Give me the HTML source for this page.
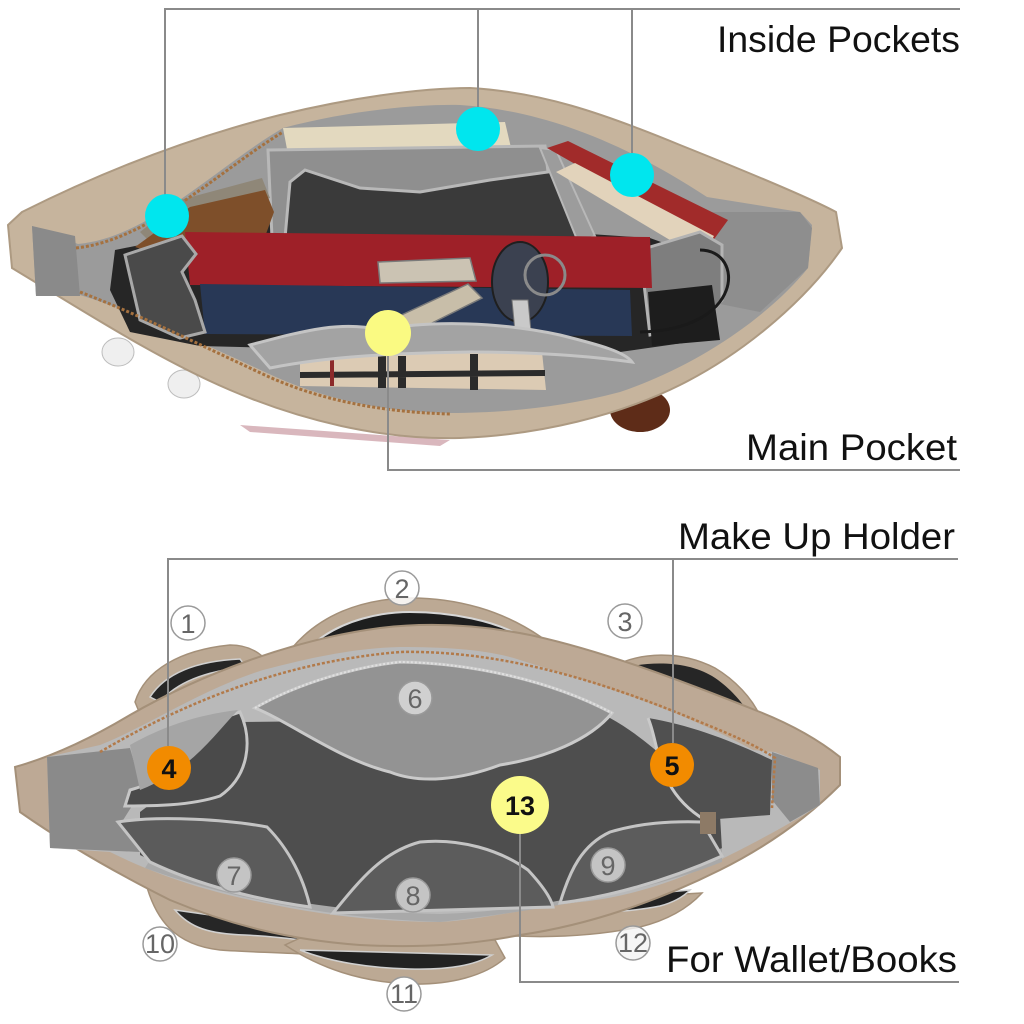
<!DOCTYPE html>
<html><head><meta charset="utf-8"><style>
html,body{margin:0;padding:0;background:#fff;}
svg{display:block;}
.lbl{font-family:"Liberation Sans",sans-serif;font-size:37px;fill:#111;}
.num{font-family:"Liberation Sans Narrow","Liberation Sans",sans-serif;font-size:27px;fill:#666;text-anchor:middle;}
.onum{font-family:"Liberation Sans",sans-serif;font-weight:bold;font-size:27px;fill:#111;text-anchor:middle;}
</style></head><body>
<svg width="1024" height="1024" viewBox="0 0 1024 1024" xmlns="http://www.w3.org/2000/svg">
<rect width="1024" height="1024" fill="#fff"/>

<!-- ================= TOP BAG ================= -->
<ellipse cx="640" cy="410" rx="30" ry="22" fill="#5e2c18"/>
<ellipse cx="118" cy="352" rx="16" ry="14" fill="#efefef" stroke="#bdbdbd"/>
<ellipse cx="184" cy="384" rx="16" ry="14" fill="#efefef" stroke="#bdbdbd"/>
<path d="M240,425 L450,440 L440,446 L250,432 Z" fill="#d9b7bd"/>

<!-- outer rim -->
<path d="M8,225 L22,212 C90,178 180,140 280,115 C350,98 420,88 470,88 C540,92 600,112 680,145 C750,173 810,198 836,212 L842,248 C810,295 750,350 680,385 C620,415 540,435 460,438 C380,440 300,420 230,390 C160,360 90,315 40,285 L12,268 Z" fill="#c6b49d" stroke="#ad9a82" stroke-width="2"/>
<!-- interior -->
<path d="M32,226 L78,244 C148,238 218,166 283,128 C350,110 420,104 460,105 C540,110 620,140 707,197 L800,212 L812,225 L808,268 C770,315 700,365 620,392 C560,408 500,413 450,413 C380,412 320,398 267,373 C200,342 130,310 80,295 L36,296 Z" fill="#9b9b9b"/>
<path d="M32,226 L75,236 L80,296 L36,296 Z" fill="#8a8a8a"/>
<path d="M700,212 L800,212 L812,228 L808,268 L760,312 L700,300 Z" fill="#8e8e8e"/>

<!-- dark interior -->
<path d="M115,250 L175,238 L265,222 L560,232 L650,238 L705,258 L715,300 L690,342 L620,352 L280,348 L200,346 L130,332 L110,290 Z" fill="#262626"/>
<!-- beige book -->
<path d="M283,128 L505,122 L512,152 L505,168 L290,165 Z" fill="#e3d9bf"/>
<path d="M290,160 L505,160 L505,170 L290,170 Z" fill="#6b4a3c"/>
<!-- top pocket -->
<path d="M270,150 L545,146 L590,236 L285,240 Z" fill="#3a3a3a"/>
<path d="M268,150 L545,146 L548,172 L490,180 L420,192 L360,188 L305,170 L290,182 L285,238 L272,238 Z" fill="#8f8f8f" stroke="#b8b8b8" stroke-width="3"/>
<path d="M540,148 L556,150 L595,236 L578,242 Z" fill="#9c9c9c" stroke="#b8b8b8" stroke-width="2"/>
<!-- wallet -->
<path d="M140,232 L180,200 L262,178 L270,198 L205,212 L150,242 Z" fill="#8f8778"/>
<path d="M135,247 L190,207 L265,190 L274,212 L266,234 L230,248 L150,252 Z" fill="#7e4f2a"/>
<!-- slanted red book right -->
<path d="M547,148 L568,141 L728,220 L712,242 Z" fill="#a12b2a"/>
<path d="M556,172 L575,163 L714,236 L705,252 L690,252 Z" fill="#e2d3bb"/>
<!-- right pocket & charger -->
<path d="M640,250 L700,232 L722,245 L722,300 L700,325 L650,335 Z" fill="#7e7e7e" stroke="#b3b3b3" stroke-width="3"/>
<path d="M648,292 L712,285 L720,340 L652,346 Z" fill="#1d1d1d"/>
<path d="M700,250 C745,250 745,330 640,332" fill="none" stroke="#1a1a1a" stroke-width="3"/>
<!-- red book -->
<path d="M185,232 L650,237 L652,288 L190,285 Z" fill="#9e2028"/>
<!-- blue book -->
<path d="M200,284 L630,290 L632,336 L205,334 Z" fill="#283856"/>
<!-- left pocket wall -->
<path d="M125,255 L182,236 L196,254 L182,272 L195,300 L205,332 L180,338 L140,320 Z" fill="#4a4a4a" stroke="#a8a8a8" stroke-width="3"/>
<!-- keys -->
<path d="M378,262 L470,258 L476,281 L380,283 Z" fill="#cbc3b3" stroke="#7a7a7a" stroke-width="1.5"/>
<path d="M395,318 L468,284 L482,298 L410,334 Z" fill="#c8bea9" stroke="#7a7a7a" stroke-width="1.5"/>
<ellipse cx="520" cy="282" rx="28" ry="40" fill="#3b4150" stroke="#1f1f1f" stroke-width="2"/>
<circle cx="545" cy="275" r="20" fill="none" stroke="#8a8a8a" stroke-width="3"/>
<path d="M512,300 L528,300 L532,342 L516,342 Z" fill="#c9c9c9" stroke="#777"/>
<!-- front pocket + plaid -->
<path d="M300,356 L542,352 L546,390 L300,386 Z" fill="#dccbb4"/>
<path d="M378,356 L386,356 L386,388 L378,388 Z M398,356 L406,356 L406,388 L398,388 Z M470,354 L478,354 L478,390 L470,390 Z M300,372 L545,370 L545,376 L300,378 Z" fill="#2b2b2b"/>
<path d="M330,356 L334,356 L334,386 L330,386 Z" fill="#8c2a2a"/>
<path d="M250,345 C300,332 340,320 380,330 C430,320 500,322 560,335 C600,345 625,352 632,362 C590,356 540,352 470,352 C400,353 330,356 270,368 Z" fill="#a3a3a3" stroke="#c4c4c4" stroke-width="3"/>
<!-- zippers -->
<path d="M76,248 C150,240 220,170 283,132" fill="none" stroke="#a5713f" stroke-width="3" stroke-dasharray="3 2"/>
<path d="M80,292 C140,315 200,345 267,376 C320,400 380,412 450,414" fill="none" stroke="#a5713f" stroke-width="3" stroke-dasharray="3 2"/>

<!-- top annotations -->
<g stroke="#8a8a8a" stroke-width="2" fill="none">
<path d="M165,196 L165,9 L960,9"/>
<path d="M478,9 L478,107"/>
<path d="M632,9 L632,154"/>
<path d="M388,356 L388,470 L960,470"/>
</g>
<circle cx="167" cy="216" r="22" fill="#00e6ee"/>
<circle cx="478" cy="129" r="22" fill="#00e6ee"/>
<circle cx="632" cy="175" r="22" fill="#00e6ee"/>
<circle cx="388" cy="333" r="23" fill="#fafa82"/>
<text class="lbl" x="717" y="52" textLength="243" lengthAdjust="spacingAndGlyphs">Inside Pockets</text>
<text class="lbl" x="746" y="460" textLength="211" lengthAdjust="spacingAndGlyphs">Main Pocket</text>

<!-- ================= BOTTOM BAG ================= -->
<path d="M135,702 C145,670 180,650 230,645 C245,645 255,650 262,656 L255,682 L140,714 Z" fill="#bca994" stroke="#a49079" stroke-width="1.5"/>
<path d="M150,697 C165,674 195,661 240,659 L246,667 C205,671 176,683 160,702 Z" fill="#262626" stroke="#d0d0d0" stroke-width="1.5"/>
<path d="M292,648 C320,615 360,600 405,598 C455,597 505,610 548,642 L300,652 Z" fill="#bca994" stroke="#a49079" stroke-width="1.5"/>
<path d="M318,640 C345,620 380,612 410,612 C450,612 495,620 527,639 Z" fill="#1e1e1e" stroke="#d6d6d6" stroke-width="2"/>
<path d="M612,667 C640,652 680,650 715,668 C735,680 752,698 760,716 L720,708 Z" fill="#bca994" stroke="#a49079" stroke-width="1.5"/>
<path d="M632,666 C660,661 690,663 712,676 C728,686 740,700 746,709 L700,696 Z" fill="#262626"/>
<path d="M145,880 C155,920 175,945 220,950 C260,953 300,952 345,958 L355,935 L160,880 Z" fill="#bca994" stroke="#a49079" stroke-width="1.5"/>
<path d="M175,910 C190,928 210,934 245,935 C285,937 312,941 336,946 L330,932 Z" fill="#262626" stroke="#d0d0d0" stroke-width="1.5"/>
<path d="M285,945 C320,968 360,982 410,984 C450,985 485,976 505,958 L495,940 L300,938 Z" fill="#bca994" stroke="#a49079" stroke-width="1.5"/>
<path d="M300,950 C330,962 370,968 410,969 C450,970 475,965 492,955 Z" fill="#222" stroke="#d0d0d0" stroke-width="1.5"/>
<path d="M515,936 C560,938 600,935 640,927 C672,919 690,906 702,893 L540,902 Z" fill="#bca994" stroke="#a49079" stroke-width="1.5"/>
<path d="M552,912 C590,914 630,912 660,906 C675,902 684,896 690,890 L560,902 Z" fill="#222" stroke="#d0d0d0" stroke-width="1.5"/>

<path d="M15,767 C40,760 80,745 130,715 C200,675 290,640 380,628 C430,622 480,625 530,635 C600,650 680,680 760,712 C800,728 825,745 840,757 L840,785 C810,815 770,845 720,870 C660,900 590,925 520,935 C470,945 420,948 360,945 C290,940 230,925 170,900 C110,870 60,840 20,812 Z" fill="#bda995" stroke="#a49079" stroke-width="2"/>
<path d="M47,757 L100,745 C150,725 200,690 263,670 C320,655 360,648 400,647 C450,647 490,650 520,660 C600,685 680,710 753,750 L775,752 L820,770 L820,805 C780,830 740,850 720,860 C680,880 630,897 580,902 C530,908 480,920 440,922 C380,922 320,915 260,902 C200,890 150,872 110,852 L50,848 Z" fill="#b9b9b9"/>
<path d="M47,757 L130,748 L142,790 L120,825 L140,852 L50,848 Z" fill="#8a8a8a"/>
<path d="M772,752 L818,768 L820,805 L790,822 L772,800 Z" fill="#8c8c8c"/>
<path d="M140,812 C170,790 200,760 240,722 L610,718 C650,740 690,780 720,815 L722,850 C660,885 600,902 540,906 L330,912 C250,900 190,880 140,855 Z" fill="#4e4e4e"/>
<path d="M255,708 C300,682 360,666 400,662 C470,663 550,680 612,713 C590,740 545,758 500,765 C460,780 420,784 390,772 C340,760 290,722 255,708 Z" fill="#939393" stroke="#cacaca" stroke-width="3"/>
<path d="M240,712 C253,740 249,776 220,796 C190,806 150,806 125,806 L130,790 C168,780 190,752 200,726 Z" fill="#4a4a4a" stroke="#c6c6c6" stroke-width="3"/>
<path d="M130,745 C160,728 195,715 238,710 C210,740 190,770 140,790 Z" fill="#a5a5a5"/>
<path d="M648,718 C660,745 655,790 705,820 L770,815 L772,760 C730,740 690,725 648,718 Z" fill="#505050"/>
<path d="M648,718 C660,745 655,790 705,820" fill="none" stroke="#cacaca" stroke-width="3"/>
<path d="M150,860 C230,895 330,912 440,914 C560,910 650,880 722,848 L722,862 C650,890 560,908 440,922 C320,918 220,895 145,868 Z" fill="#a9a9a9"/>
<path d="M118,822 C160,815 230,820 267,827 C290,850 304,880 310,907 C260,900 200,886 150,862 Z" fill="#5b5b5b" stroke="#c4c4c4" stroke-width="3"/>
<path d="M333,913 C360,880 382,852 420,842 C460,838 500,850 528,870 C542,885 551,898 553,907 Z" fill="#5c5c5c" stroke="#c4c4c4" stroke-width="3"/>
<path d="M560,903 C570,870 582,845 610,832 C640,823 670,821 702,822 L722,856 C660,884 600,898 560,903 Z" fill="#5c5c5c" stroke="#c4c4c4" stroke-width="3"/>
<path d="M100,752 C180,705 280,662 400,652 C500,650 600,680 700,722 C740,738 760,748 775,758 L772,808" fill="none" stroke="#b27a4a" stroke-width="2.5" stroke-dasharray="3 2"/>
<path d="M255,708 C300,682 360,666 400,662 C470,663 550,680 612,713" fill="none" stroke="#e0e0e0" stroke-width="2" stroke-dasharray="2 2"/>
<rect x="700" y="812" width="16" height="22" fill="#8d7a66"/>

<g stroke="#8a8a8a" stroke-width="2" fill="none">
<path d="M168,746 L168,559 L958,559"/>
<path d="M673,559 L673,743"/>
<path d="M520,834 L520,982 L959,982"/>
</g>
<circle cx="169" cy="768" r="22" fill="#f28b00"/>
<text class="onum" x="169" y="778">4</text>
<circle cx="672" cy="765" r="22" fill="#f28b00"/>
<text class="onum" x="672" y="775">5</text>
<circle cx="520" cy="805" r="29" fill="#fbfb8a"/>
<text class="onum" x="520" y="815" font-size="29">13</text>

<g stroke="#9a9a9a" stroke-width="1.5">
<circle cx="188" cy="623" r="17" fill="#fff"/>
<circle cx="402" cy="588" r="17" fill="#fff" fill-opacity="0.85"/>
<circle cx="625" cy="621" r="17" fill="#fff"/>
<circle cx="415" cy="698" r="17" fill="#d0d0d0"/>
<circle cx="234" cy="875" r="17" fill="#c4c4c4"/>
<circle cx="413" cy="895" r="17" fill="#c4c4c4"/>
<circle cx="608" cy="865" r="17" fill="#c4c4c4"/>
<circle cx="160" cy="944" r="17" fill="#fff"/>
<circle cx="404" cy="994" r="17" fill="#fff"/>
<circle cx="633" cy="943" r="17" fill="#f4f4f4" fill-opacity="0.8"/>
</g>
<text class="num" x="188" y="633">1</text>
<text class="num" x="402" y="598">2</text>
<text class="num" x="625" y="631">3</text>
<text class="num" x="415" y="708" fill="#555">6</text>
<text class="num" x="234" y="885" fill="#555">7</text>
<text class="num" x="413" y="905" fill="#555">8</text>
<text class="num" x="608" y="875" fill="#555">9</text>
<text class="num" x="160" y="953" font-size="22">10</text>
<text class="num" x="404" y="1003" font-size="22">11</text>
<text class="num" x="633" y="952" font-size="22">12</text>

<text class="lbl" x="678" y="549" textLength="277" lengthAdjust="spacingAndGlyphs">Make Up Holder</text>
<text class="lbl" x="666" y="972" textLength="291" lengthAdjust="spacingAndGlyphs">For Wallet/Books</text>
</svg>
</body></html>
